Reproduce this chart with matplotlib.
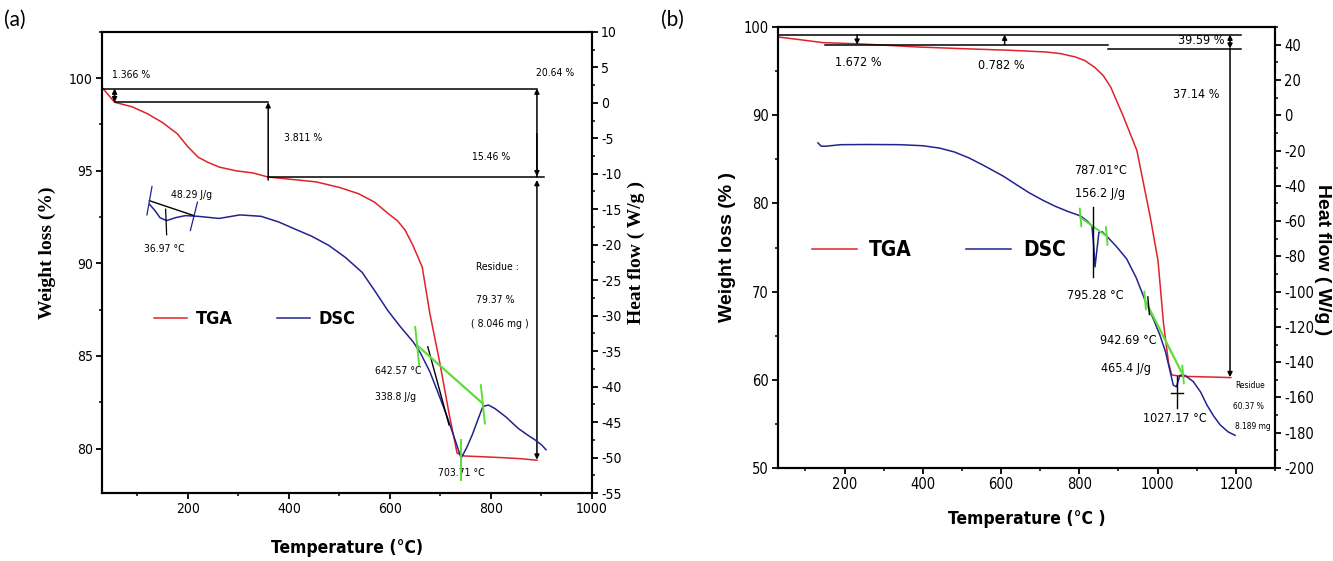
import matplotlib
matplotlib.use("Agg")
import matplotlib.pyplot as plt
from matplotlib import font_manager
from matplotlib.ticker import MultipleLocator

# a condensed sans if one is installed, otherwise plain Liberation Sans
fonts = font_manager.fontManager.ttflist
narrow, stretch = "Liberation Sans", "normal"
for f in fonts:
    if f.name == "Liberation Sans Narrow":
        narrow, stretch = f.name, "normal"
        break
    if f.name == "DejaVu Sans" and f.stretch == "condensed":
        narrow, stretch = f.name, "condensed"
plt.rcParams["font.family"] = [narrow, "DejaVu Sans"]
plt.rcParams["font.stretch"] = stretch
plt.rcParams["axes.unicode_minus"] = False

RED = "#e0222a"
BLUE = "#23238e"
GREEN = "#5fdc3c"

# ---- panel (a) data ----
tga_a_T = [32, 55, 90, 120, 150, 179, 200, 220, 240, 262, 295, 329, 359, 400, 454, 500,
           538, 570, 596, 615, 630, 645, 664, 679, 699, 717, 733, 747, 790, 829, 860, 891]
tga_a_w = [99.44, 98.7, 98.45, 98.08, 97.6, 97.0, 96.3, 95.74, 95.45, 95.2, 95.0, 94.88,
           94.66, 94.55, 94.4, 94.1, 93.76, 93.3, 92.7, 92.3, 91.8, 91.0, 89.8, 87.3, 84.6,
           81.9, 79.75, 79.6, 79.55, 79.5, 79.45, 79.37]
dsc_a_T = [124, 135, 145, 158, 175, 195, 220, 262, 303, 345, 380, 412, 445, 479, 512, 545,
           570, 596, 620, 646, 660, 679, 695, 712, 728, 741, 752, 763, 775, 784, 795, 808,
           830, 854, 872, 887, 900, 909]
dsc_a_h = [-14.3, -15.2, -16.2, -16.6, -16.2, -15.9, -16.0, -16.3, -15.8, -16.0, -16.8,
           -17.8, -18.8, -20.1, -21.8, -23.9, -26.5, -29.3, -31.5, -33.7, -35.2, -37.9,
           -40.8, -44.0, -47.3, -50.1, -48.6, -46.8, -44.5, -42.8, -42.6, -43.1, -44.3,
           -45.9, -46.8, -47.5, -48.2, -48.9]

# ---- panel (b) data ----
tga_b_T = [30, 80, 145, 233, 300, 386, 500, 625, 715, 753, 790, 814, 840, 861, 880, 913,
           947, 981, 1001, 1015, 1028, 1036, 1060, 1100, 1150, 1187]
tga_b_w = [98.87, 98.6, 98.23, 98.1, 97.95, 97.74, 97.55, 97.36, 97.17, 96.98, 96.6, 96.2,
           95.4, 94.5, 93.2, 89.8, 86.0, 78.5, 73.5, 66.4, 61.9, 60.55, 60.4, 60.35, 60.3,
           60.25]
dsc_b_T = [132, 140, 150, 190, 260, 342, 400, 442, 480, 518, 560, 606, 640, 672, 705, 737,
           770, 803, 820, 832, 836, 840, 844, 850, 858, 870, 895, 921, 945, 968, 990, 1006,
           1020, 1032, 1040, 1048, 1057, 1070, 1091, 1110, 1126, 1143, 1160, 1180, 1198]
dsc_b_h = [-15.7, -17.5, -17.6, -16.7, -16.6, -16.7, -17.3, -18.6, -20.8, -24.2, -29.0,
           -34.6, -39.5, -44.0, -48.0, -51.5, -54.5, -57.1, -60.0, -62.8, -72, -86, -78,
           -66.4, -66.0, -68.6, -74.5, -81.5, -92.0, -105, -116, -124.8, -134, -145.3, -153,
           -154, -147.4, -147.5, -151, -157, -164.3, -170.5, -175.6, -179.5, -181.5]


def arrow(ax, x, y0, y1, style="-|>"):
    ax.annotate("", xy=(x, y1), xytext=(x, y0),
                arrowprops=dict(arrowstyle=style, color="k", lw=1.1,
                                mutation_scale=7, shrinkA=0, shrinkB=0))


def style_axes(ax, ax2, lsize):
    for a in (ax, ax2):
        for s in a.spines.values():
            s.set_linewidth(1.5)
        a.tick_params(which="major", direction="out", length=4, width=1.3,
                      labelsize=lsize, pad=2.5)
        a.tick_params(which="minor", direction="out", length=2.5, width=1.1)


fig = plt.figure(figsize=(13.33, 5.61), dpi=100)

# ================= panel (a) =================
ax = fig.add_axes([0.0765, 0.1212, 0.3676, 0.822])
ax2 = ax.twinx()
l1, = ax.plot(tga_a_T, tga_a_w, color=RED, lw=1.1, label="TGA")
l2, = ax2.plot(dsc_a_T, dsc_a_h, color=BLUE, lw=1.1, label="DSC")
ax.set_xlim(30, 1000)
ax.set_ylim(77.6, 102.5)
ax2.set_ylim(-55, 10)
ax.xaxis.set_major_locator(MultipleLocator(200))
ax.xaxis.set_minor_locator(MultipleLocator(100))
ax.yaxis.set_major_locator(MultipleLocator(5))
ax.yaxis.set_minor_locator(MultipleLocator(2.5))
ax2.yaxis.set_major_locator(MultipleLocator(5))
ax2.yaxis.set_minor_locator(MultipleLocator(2.5))
style_axes(ax, ax2, 10)

# step lines and arrows (TGA)
ax.plot([32, 891], [99.44, 99.44], color="k", lw=1.1)
ax.plot([55, 359], [98.7, 98.7], color="k", lw=1.1)
ax.plot([359, 905], [94.66, 94.66], color="k", lw=1.1)
arrow(ax, 55, 99.44, 98.7, "<|-|>")
arrow(ax, 359, 94.5, 98.7)
arrow(ax, 891, 94.66, 99.44)
arrow(ax, 891, 97.0, 94.7)
arrow(ax, 891, 94.5, 79.4, "<|-|>")
tk = dict(fontsize=7.5, ha="center", va="center")
ax.text(87, 100.15, "1.366 %", **tk)
ax.text(927, 100.3, "20.64 %", **tk)
ax.text(428, 96.75, "3.811 %", **tk)
ax.text(800, 95.74, "15.46 %", **tk)
ax.text(208, 93.7, "48.29 J/g", **tk)
ax.text(153, 90.8, "36.97 °C", **tk)
ax.text(812, 89.8, "Residue :", **tk)
ax.text(808, 88.0, "79.37 %", **tk)
ax.text(817, 86.75, "( 8.046 mg )", **tk)
ax.text(616, 84.2, "642.57 °C", **tk)
ax.text(612, 82.8, "338.8 J/g", **tk)
ax.text(741, 78.7, "703.71 °C", **tk)

# DSC construction lines
ax2.plot([124, 212], [-13.8, -15.9], color="k", lw=1.0)
ax2.plot([119, 129], [-15.8, -11.8], color=BLUE, lw=0.9)
ax2.plot([156, 158], [-15.0, -18.6], color="k", lw=0.9)
ax2.plot([205, 219], [-18.0, -14.0], color=BLUE, lw=0.9)
ax2.plot([675, 717], [-34.4, -45.4], color="k", lw=1.0)
ax2.plot([654, 784], [-34.2, -42.4], color=GREEN, lw=1.6)
ax2.plot([650, 658], [-31.6, -37.0], color=GREEN, lw=1.4)
ax2.plot([780, 788], [-39.8, -45.2], color=GREEN, lw=1.4)
ax2.plot([741, 741], [-47.5, -53.2], color=GREEN, lw=1.4)

ax.legend(handles=[l1, l2], loc="center left", bbox_to_anchor=(0.106, 0.377), ncol=2,
          frameon=False, borderpad=0, borderaxespad=0, handlelength=1.85,
          columnspacing=2.4, handletextpad=0.5,
          prop=dict(family=narrow, stretch=stretch, weight="bold", size=13))

ax.set_xlabel("Temperature (°C)", fontsize=12.5, fontweight="bold")
ax.xaxis.set_label_coords(0.5, -0.1)
fig.text(47 / 1333, 1 - 253 / 561, "Weight loss (%)", rotation=90, ha="center",
         va="center", family="Liberation Serif", fontweight="bold", fontsize=14)
fig.text(636 / 1333, 1 - 253 / 561, "Heat flow ( W/g )", rotation=90, ha="center",
         va="center", family="Liberation Serif", fontweight="bold", fontsize=14)

# ================= panel (b) =================
bx = fig.add_axes([0.5837, 0.1658, 0.3728, 0.786])
bx2 = bx.twinx()
m1, = bx.plot(tga_b_T, tga_b_w, color=RED, lw=1.1, label="TGA")
m2, = bx2.plot(dsc_b_T, dsc_b_h, color=BLUE, lw=1.1, label="DSC")
bx.set_xlim(30, 1300)
bx.set_ylim(50, 100)
bx2.set_ylim(-200, 50)
bx.xaxis.set_major_locator(MultipleLocator(200))
bx.xaxis.set_minor_locator(MultipleLocator(100))
bx.yaxis.set_major_locator(MultipleLocator(10))
bx.yaxis.set_minor_locator(MultipleLocator(5))
bx2.set_yticks(range(-200, 41, 20))
bx2.yaxis.set_minor_locator(MultipleLocator(10))
style_axes(bx, bx2, 10.5)

bx.plot([30, 1213], [99.14, 99.14], color="k", lw=1.1)
bx.plot([149, 873], [98.0, 98.0], color="k", lw=1.1)
bx.plot([873, 1213], [97.55, 97.55], color="k", lw=1.1)
arrow(bx, 232, 99.14, 98.0)
arrow(bx, 609, 98.0, 99.14)
arrow(bx, 1185, 99.14, 97.55, "<|-|>")
arrow(bx, 1185, 97.55, 60.3)
tb = dict(fontsize=9, ha="center", va="center")
bx.text(234, 96.0, "1.672 %", **tb)
bx.text(600, 95.66, "0.782 %", **tb)
bx.text(1111, 98.5, "39.59 %", **tb)
bx.text(1099, 92.34, "37.14 %", **tb)
bx.text(853, 83.77, "787.01°C", **tb)
bx.text(853, 81.1, "156.2 J/g", **tb)
bx.text(842, 69.6, "795.28 °C", **tb)
bx.text(924, 64.4, "942.69 °C", **tb)
bx.text(919, 61.3, "465.4 J/g", **tb)
bx.text(1045, 55.65, "1027.17 °C", **tb)
ts = dict(fontsize=6, ha="center", va="center")
bx.text(1236, 59.3, "Residue", **ts)
bx.text(1231, 57.0, "60.37 %", **ts)
bx.text(1242, 54.7, "8.189 mg", **ts)

bx2.plot([803, 870], [-58, -68.6], color=GREEN, lw=1.4)
bx2.plot([801, 805], [-53, -63], color=GREEN, lw=1.4)
bx2.plot([868, 872], [-63.5, -73.5], color=GREEN, lw=1.4)
bx2.plot([834, 834], [-52, -92], color="k", lw=1.0)
bx2.plot([968, 1065], [-105, -147.4], color=GREEN, lw=1.6)
bx2.plot([966, 970], [-100, -110], color=GREEN, lw=1.4)
bx2.plot([1063, 1067], [-142, -152], color=GREEN, lw=1.4)
bx2.plot([975, 979], [-103, -113], color="k", lw=1.0)
bx2.plot([1035, 1065], [-157.7, -157.7], color="k", lw=1.0)
bx2.plot([1049, 1049], [-148, -166], color="k", lw=1.0)

bx.legend(handles=[m1, m2], loc="center left", bbox_to_anchor=(0.068, 0.494), ncol=2,
          frameon=False, borderpad=0, borderaxespad=0, handlelength=2.15,
          columnspacing=2.6, handletextpad=0.6,
          prop=dict(family=narrow, stretch=stretch, weight="bold", size=15))

bx.set_xlabel("Temperature (°C )", fontsize=12.5, fontweight="bold")
bx.xaxis.set_label_coords(0.5, -0.095)
fig.text(727 / 1333, 1 - 247 / 561, "Weight loss (% )", rotation=90, ha="center",
         va="center", family="Liberation Sans", fontweight="bold", fontsize=14)
fig.text(1322 / 1333, 1 - 260 / 561, "Heat flow ( W/g )", rotation=-90, ha="center",
         va="center", family="Liberation Sans", fontweight="bold", fontsize=14)

fig.text(15 / 1333, 1 - 20 / 561, "(a)", family="Lato", fontsize=15, ha="center", va="center")
fig.text(672 / 1333, 1 - 20 / 561, "(b)", family="Lato", fontsize=15, ha="center", va="center")

fig.savefig("out.png", dpi=100)
